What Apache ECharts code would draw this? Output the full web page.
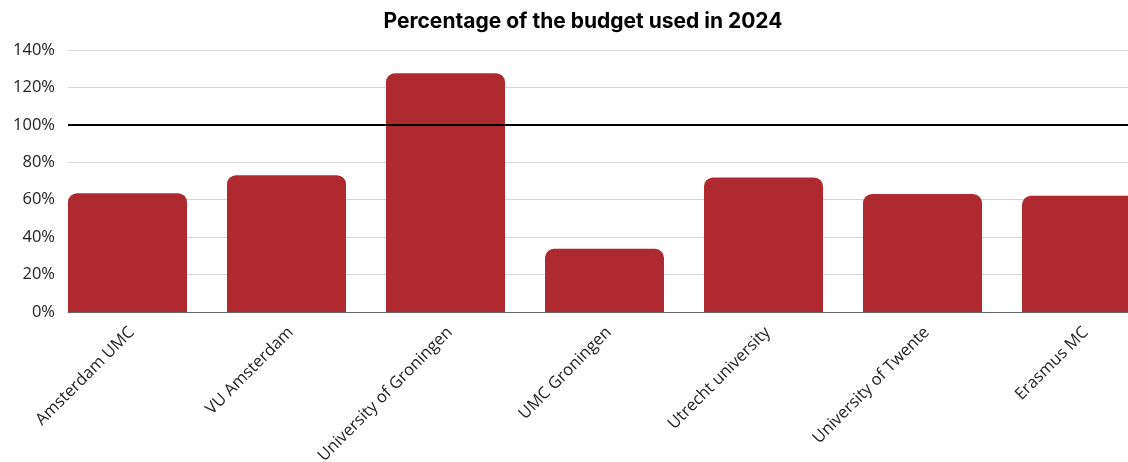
<!DOCTYPE html>
<html>
<head>
<meta charset="utf-8">
<script src="https://cdn.jsdelivr.net/npm/echarts@6/dist/echarts.min.js"></script>
<style>
  html, body { margin: 0; padding: 0; background: #fff; }
  #main { width: 1128px; height: 462px; }
</style>
</head>
<body>
<div id="main"></div>
<script>
var categories = ['Amsterdam UMC', 'VU Amsterdam', 'University of Groningen', 'UMC Groningen', 'Utrecht university', 'University of Twente', 'Erasmus MC'];
var budgetUsed = [63.5, 73.1, 127.6, 33.8, 71.9, 63.0, 62.1];
var yTicks = [0, 20, 40, 60, 80, 100, 120, 140];
var targetLine = 100;

var myChart = echarts.init(document.getElementById('main'));

var option = {
  backgroundColor: '#ffffff',
  animation: false,
  title: {
    text: 'Percentage of the budget used in 2024',
    left: 578,
    textAlign: 'center',
    top: 6,
    textStyle: { fontFamily: 'Inter', fontWeight: 'bold', fontSize: 21, color: '#000' }
  },
  // grid 0 holds the y axis and gridlines, grid 1 holds the bars (runs past the right edge)
  grid: [
    { left: 68, right: 0, top: 50, bottom: 150, outerBoundsMode: 'none' },
    { left: 48, width: 1113, top: 50, bottom: 150, outerBoundsMode: 'none' }
  ],
  xAxis: [
    {
      gridIndex: 0, type: 'category', data: categories,
      axisLine: { lineStyle: { color: '#666', width: 1 } },
      axisTick: { show: false },
      axisLabel: { show: false }
    },
    {
      gridIndex: 1, type: 'category', data: categories,
      axisLine: { show: false },
      axisTick: { show: false },
      axisLabel: {
        rotate: 45, margin: 22, interval: 0,
        padding: [0, -6, 0, 0],
        fontFamily: 'Open Sans', fontSize: 16.5, color: '#222'
      }
    }
  ],
  yAxis: [
    {
      gridIndex: 0, type: 'value', min: yTicks[0], max: yTicks[yTicks.length - 1], interval: 20,
      axisLine: { show: false },
      axisTick: { show: false },
      axisLabel: { formatter: '{value}%', fontFamily: 'Open Sans', fontSize: 16.5, color: '#222', margin: 13 },
      splitLine: { lineStyle: { color: '#d4d4d4', width: 1 } }
    },
    {
      gridIndex: 1, type: 'value', min: yTicks[0], max: yTicks[yTicks.length - 1], interval: 20,
      show: false
    }
  ],
  series: [
    {
      type: 'line', xAxisIndex: 0, yAxisIndex: 0, data: [],
      markLine: {
        silent: true, symbol: 'none', label: { show: false },
        lineStyle: { color: '#000', width: 2, type: 'solid' },
        data: [{ yAxis: targetLine }]
      }
    },
    {
      type: 'bar', xAxisIndex: 1, yAxisIndex: 1,
      data: budgetUsed,
      barWidth: 119,
      itemStyle: { color: '#ae2a2e', borderRadius: [9, 9, 0, 0] },
      z: 3
    }
  ]
};

myChart.setOption(option);
</script>
</body>
</html>
